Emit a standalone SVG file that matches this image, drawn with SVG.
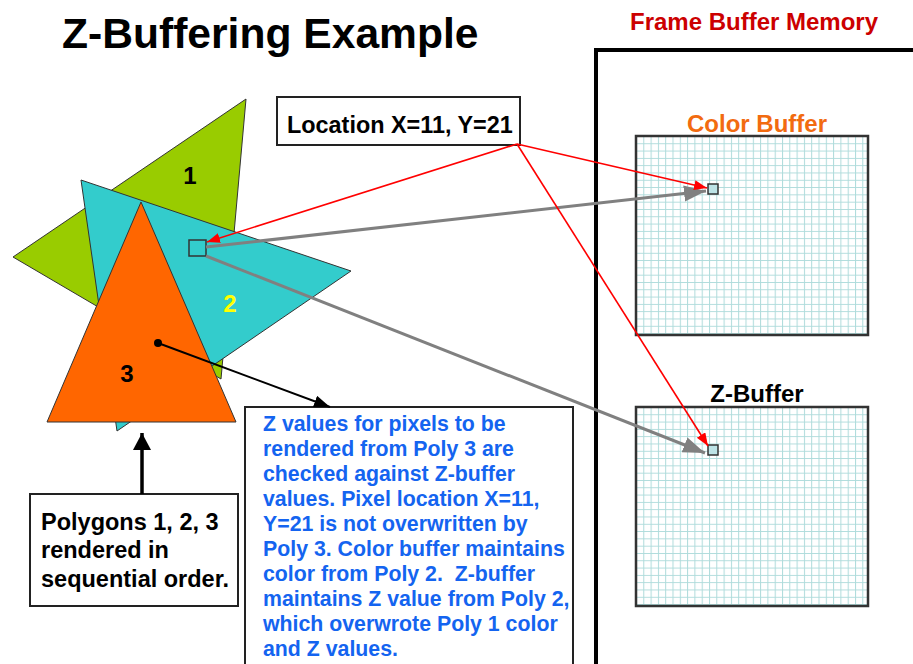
<svg xmlns="http://www.w3.org/2000/svg" width="913" height="664" viewBox="0 0 913 664">
<style>
text{font-family:"Liberation Sans",Arial,sans-serif;font-weight:bold}
.box{fill:#fff;stroke:#222;stroke-width:2}
.buf{stroke:#333;stroke-width:2.5}
.tri{stroke:#333;stroke-width:1}
.red{stroke:#ff0000;stroke-width:1.6;fill:none}
.gray{stroke:#808080;stroke-width:3;fill:none}
.blk{stroke:#000;fill:none}
.blue{fill:#1464f0;font-size:21.3px}
</style>
<defs>
<pattern id="g1" x="636" y="136" width="7.3" height="7.3" patternUnits="userSpaceOnUse">
<rect width="7.3" height="7.3" fill="#fff"/>
<path d="M0,0.5H7.3M0.5,0V7.3" stroke="#aedbdb" stroke-width="1"/>
</pattern>
<pattern id="g2" x="636" y="407" width="7.3" height="7.3" patternUnits="userSpaceOnUse">
<rect width="7.3" height="7.3" fill="#fff"/>
<path d="M0,0.5H7.3M0.5,0V7.3" stroke="#aedbdb" stroke-width="1"/>
</pattern>
<marker id="ar" markerUnits="userSpaceOnUse" markerWidth="14" markerHeight="12" refX="13" refY="5" orient="auto"><path d="M0,0L13,5L0,10z" fill="#ff0000"/></marker>
<marker id="ag" markerUnits="userSpaceOnUse" markerWidth="24" markerHeight="18" refX="22" refY="8" orient="auto"><path d="M0,0L22,8L0,16z" fill="#808080"/></marker>
<marker id="ab" markerUnits="userSpaceOnUse" markerWidth="18" markerHeight="14" refX="16" refY="6" orient="auto"><path d="M0,0L16,6L0,12z" fill="#000"/></marker>
<marker id="au" markerUnits="userSpaceOnUse" markerWidth="20" markerHeight="20" refX="17" refY="9" orient="auto"><path d="M0,0L17,9L0,18z" fill="#000"/></marker>
</defs>
<rect width="913" height="664" fill="#fff"/>
<text x="62" y="48" font-size="42.6" fill="#000">Z-Buffering Example</text>
<g id="frame-buffer-memory">
<text x="754" y="30" font-size="24" fill="#cc0000" text-anchor="middle">Frame Buffer Memory</text>
<path d="M596,664V50H913" stroke="#000" stroke-width="4" fill="none"/>
</g>
<g id="poly1"><polygon class="tri" points="246,99 13,257 221,379" fill="#99cc00"/><text x="190" y="184" font-size="24" text-anchor="middle">1</text></g>
<g id="poly2"><polygon class="tri" points="81,180 351,271 117,431" fill="#33cccc"/><text x="230" y="312" font-size="24" fill="#ffff00" text-anchor="middle">2</text></g>
<g id="poly3"><polygon class="tri" points="141,202 47,422 236,422" fill="#ff6600"/><text x="127" y="382" font-size="24" text-anchor="middle">3</text><circle cx="158" cy="343" r="4" fill="#000"/></g>
<g id="pixel"><rect x="189" y="240" width="17" height="16" fill="#33cccc" stroke="#333" stroke-width="1.5"/></g>
<g id="location"><rect class="box" x="277" y="97" width="243" height="48"/><text x="287" y="133" font-size="23.4">Location X=11, Y=21</text></g>
<g id="color-buffer"><text x="757" y="132" font-size="24" fill="#f26b10" text-anchor="middle">Color Buffer</text><rect class="buf" x="636" y="136" width="232" height="199" fill="url(#g1)"/><rect x="708" y="184" width="10" height="10" fill="#bde3e6" stroke="#333" stroke-width="1.5"/></g>
<g id="z-buffer"><text x="757" y="402" font-size="24" text-anchor="middle">Z-Buffer</text><rect class="buf" x="636" y="407" width="232" height="199" fill="url(#g2)"/><rect x="708" y="445" width="10" height="10" fill="#bde3e6" stroke="#333" stroke-width="1.5"/></g>
<g id="explanation"><rect class="box" x="245" y="407" width="328" height="270"/>
<text class="blue" x="263" y="431">Z values for pixels to be</text>
<text class="blue" x="263" y="456">rendered from Poly 3 are</text>
<text class="blue" x="263" y="481">checked against Z-buffer</text>
<text class="blue" x="263" y="506">values. Pixel location X=11,</text>
<text class="blue" x="263" y="531">Y=21 is not overwritten by</text>
<text class="blue" x="263" y="556">Poly 3. Color buffer maintains</text>
<text class="blue" x="263" y="581" xml:space="preserve">color from Poly 2.  Z-buffer</text>
<text class="blue" x="263" y="606">maintains Z value from Poly 2,</text>
<text class="blue" x="263" y="631">which overwrote Poly 1 color</text>
<text class="blue" x="263" y="656">and Z values.</text>
</g>
<g id="order"><rect class="box" x="30" y="494" width="208" height="112"/>
<text x="41" y="530" font-size="23.5">Polygons 1, 2, 3</text>
<text x="41" y="558" font-size="23.5">rendered in</text>
<text x="41" y="587" font-size="23.5">sequential order.</text>
</g>
<g id="connectors">
<line class="gray" x1="206" y1="247" x2="706" y2="191" marker-end="url(#ag)"/>
<line class="gray" x1="206" y1="256" x2="705" y2="453" marker-end="url(#ag)"/>
<line class="red" x1="517" y1="144" x2="707" y2="188" marker-end="url(#ar)"/>
<line class="red" x1="517" y1="144" x2="708" y2="446" marker-end="url(#ar)"/>
<line class="red" x1="517" y1="144" x2="207" y2="242" marker-end="url(#ar)"/>
<line class="blk" stroke-width="2" x1="158" y1="343" x2="330" y2="407" marker-end="url(#ab)"/>
<line class="blk" stroke-width="3.5" x1="142" y1="494" x2="142" y2="433" marker-end="url(#au)"/>
</g>
</svg>
